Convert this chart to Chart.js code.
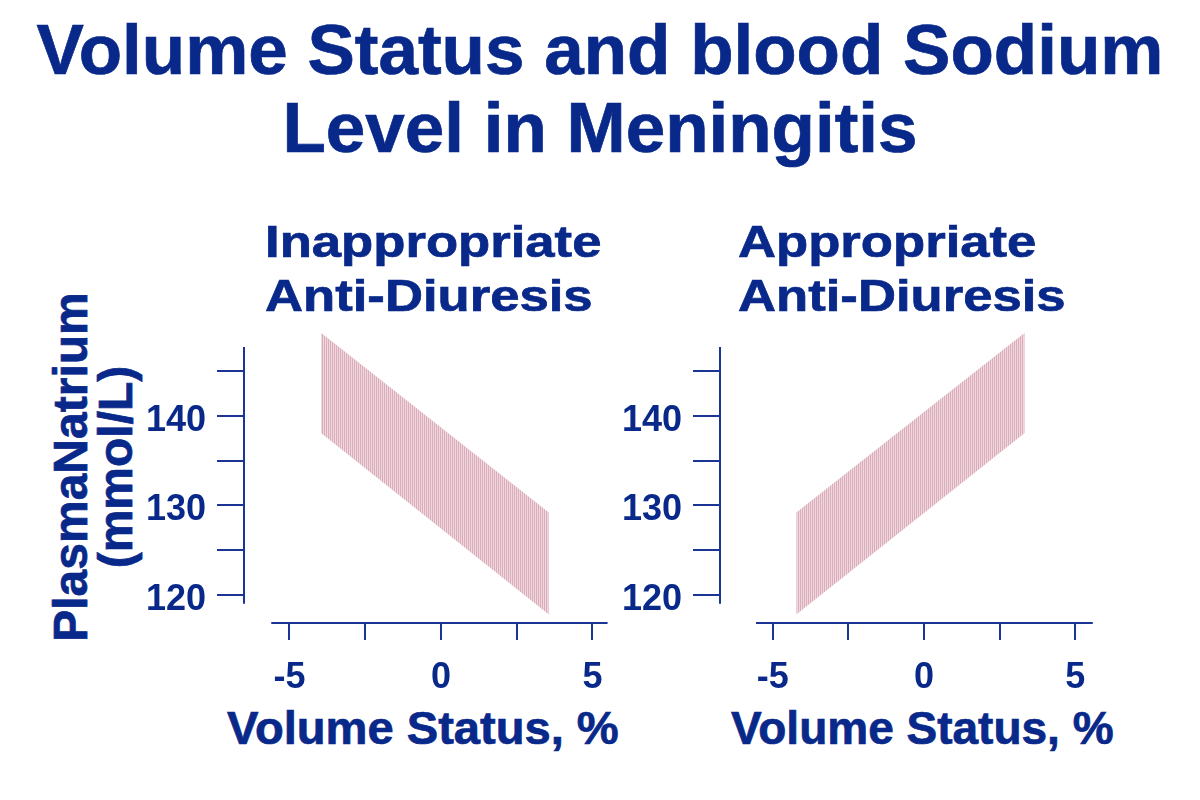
<!DOCTYPE html>
<html>
<head>
<meta charset="utf-8">
<script src="https://cdn.jsdelivr.net/npm/chart.js@4/dist/chart.umd.min.js"></script>
<style>
  body { margin: 0; background: #fff; width: 1200px; height: 800px; position: relative; overflow: hidden;
         font-family: "Liberation Sans", Arial, sans-serif; font-weight: bold; color: #08288a; }
  .t { position: absolute; white-space: nowrap; -webkit-text-stroke: 0.7px #08288a; }
  #title { left: 0; width: 1200px; top: 11px; text-align: center; font-size: 71px; line-height: 78px; }
  .sub { font-size: 45px; line-height: 54px; top: 215px; transform: scaleX(1.17); transform-origin: left top; }
  .xt { font-size: 46px; line-height: 50px; top: 703px; transform-origin: left top; }
  #ytitle { left: -107px; top: 422px; width: 400px; height: 90px; text-align: center; font-size: 48px;
            line-height: 45px; transform: rotate(-90deg); }
  canvas { position: absolute; }
</style>
</head>
<body>
<div id="title" class="t">Volume Status and blood Sodium<br>Level in Meningitis</div>
<div class="t sub" style="left:265px">Inappropriate<br>Anti-Diuresis</div>
<div class="t sub" style="left:738px">Appropriate<br>Anti-Diuresis</div>
<div id="ytitle" class="t">PlasmaNatrium<br>(mmol/L)</div>
<div class="t xt" style="left:227px;transform:scaleX(1.024)">Volume Status, %</div>
<div class="t xt" style="left:731px">Volume Status, %</div>
<canvas id="left" width="476" height="393" style="left:134px;top:330px"></canvas>
<canvas id="right" width="483" height="393" style="left:610px;top:330px"></canvas>
<script>
// band corners (volume status %, plasma sodium mmol/L)
const inappX = [-3.96, 3.56];
const inappUpper = [149.3, 129.2];
const inappLower = [138.1, 117.8];

const appX = [-4.22, 3.33];
const appUpper = [129.2, 149.3];
const appLower = [117.8, 138.1];

const xTicks = [-5, -2.5, 0, 2.5, 5];
const yTicks = [120, 125, 130, 135, 140, 145];

const NAVY = '#08288a';
const AXIS = '#1a3593';

Chart.defaults.font.family = '"Liberation Sans", Arial, sans-serif';
Chart.defaults.font.weight = 'bold';

// vertical pink hatch like the slide
function hatch() {
  const c = document.createElement('canvas');
  c.width = 2; c.height = 2;
  const g = c.getContext('2d');
  g.fillStyle = '#efd9df'; g.fillRect(0, 0, 2, 2);
  g.fillStyle = '#dbadbb'; g.fillRect(0, 0, 1, 2);
  return g.createPattern(c, 'repeat');
}

// detached axis lines (they don't meet in the corner)
const axisLines = {
  id: 'axisLines',
  afterDraw(chart, args, o) {
    const { ctx, chartArea, scales } = chart;
    ctx.save();
    ctx.strokeStyle = AXIS;
    ctx.lineWidth = 2;
    ctx.beginPath();
    ctx.moveTo(chartArea.left, scales.y.getPixelForValue(o.yFrom));
    ctx.lineTo(chartArea.left, scales.y.getPixelForValue(o.yTo));
    ctx.moveTo(scales.x.getPixelForValue(o.xFrom), chartArea.bottom);
    ctx.lineTo(scales.x.getPixelForValue(o.xTo), chartArea.bottom);
    ctx.stroke();
    ctx.restore();
  }
};

function makePanel(id, bx, up, lo, xMin, xMax, xFrom, xTo) {
  const fillPat = hatch();
  return new Chart(document.getElementById(id), {
    type: 'line',
    data: {
      datasets: [
        { data: bx.map((x, i) => ({ x, y: up[i] })), borderWidth: 0, pointRadius: 0, fill: false },
        { data: bx.map((x, i) => ({ x, y: lo[i] })), borderWidth: 0, pointRadius: 0,
          fill: '-1', backgroundColor: fillPat }
      ]
    },
    options: {
      responsive: false,
      animation: false,
      events: [],
      layout: { padding: 0 },
      plugins: { legend: { display: false }, tooltip: { enabled: false },
                 axisLines: { yFrom: 119, yTo: 147.7, xFrom, xTo } },
      scales: {
        x: {
          type: 'linear', min: xMin, max: xMax,
          border: { display: false },
          grid: { drawOnChartArea: false, tickLength: 17, color: AXIS, lineWidth: 2 },
          ticks: { autoSkip: false, maxRotation: 0, color: NAVY, padding: 16,
                   font: { size: 36, weight: 'bold', lineHeight: 1.2 },
                   callback: v => (v % 5 === 0 ? v : '') },
          afterBuildTicks: s => { s.ticks = xTicks.map(v => ({ value: v })); },
          afterFit: s => { s.height = 100; s.paddingLeft = 0; s.paddingRight = 0; }
        },
        y: {
          type: 'linear', min: 116.86, max: 149.6,
          border: { display: false },
          grid: { drawOnChartArea: false, tickLength: 27, color: AXIS, lineWidth: 2 },
          ticks: { autoSkip: false, color: NAVY, padding: 11, labelOffset: 5,
                   font: { size: 36, weight: 'bold', lineHeight: 1.2 },
                   callback: v => (v % 10 === 0 ? v : '') },
          afterBuildTicks: s => { s.ticks = yTicks.map(v => ({ value: v })); },
          afterFit: s => { s.width = 110; s.paddingTop = 0; s.paddingBottom = 0; }
        }
      }
    },
    plugins: [axisLines]
  });
}

makePanel('left', inappX, inappUpper, inappLower, -6.5, 5.58, -5.6, 5.5);
makePanel('right', appX, appUpper, appLower, -6.74, 5.587, -5.55, 5.58);
</script>
</body>
</html>
